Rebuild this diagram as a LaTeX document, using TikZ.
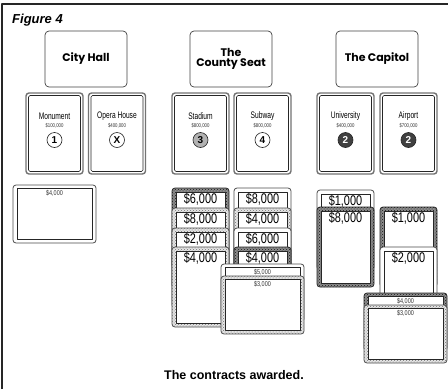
\documentclass[tikz,border=0pt]{standalone}
\usepackage{fontspec}
\usepackage{graphicx}
\setmainfont{Liberation Sans}
\newfontfamily\headfont{Poppins}
\usetikzlibrary{patterns}
\newcommand{\narrow}[1]{\scalebox{0.78}[1]{#1}}
\newcommand{\slimname}[1]{\scalebox{0.7}[1]{#1}}

\tikzset{
  plainedge/.style={draw=black!70,fill=white},
  speckedge/.style={draw=black!70,fill=black!10,postaction={pattern=crosshatch dots,pattern color=black!55}},
  darkedge/.style={draw=black!85,fill=black!45,postaction={pattern=crosshatch dots,pattern color=black!90}},
  cardface/.style={draw=black!85,fill=white,line width=0.6pt},
  sitebox/.style={draw=black!55,fill=white,line width=1.4pt,rounded corners=3},
  siteinner/.style={draw=black!85,line width=0.6pt,rounded corners=1.5},
  sitename/.style={inner sep=0,font=\fontsize{9.5}{10}\selectfont},
  siteprice/.style={inner sep=0,font=\fontsize{5.5}{6}\selectfont,text=black!80},
  disc/.style={circle,draw=black!85,line width=0.6pt,minimum size=15,inner sep=0,font=\bfseries\fontsize{10}{10}\selectfont},
  discwhite/.style={fill=white},
  discgrey/.style={fill=black!30},
  discdark/.style={fill=black!75,text=white},
  hall/.style={draw=black!75,line width=0.7pt,rounded corners=4,minimum width=82,minimum height=56,align=center,font=\headfont\bfseries\fontsize{11}{10.5}\selectfont},
  bigamount/.style={anchor=north,inner sep=0.5,font=\fontsize{14}{14}\selectfont},
  smallamount/.style={anchor=north,inner sep=0.5,font=\fontsize{7}{7}\selectfont,text=black!80},
}

% building card: left x, node name, site, price, disc style, number
\newcommand{\sitecard}[6]{%
  \draw[sitebox] (#1,93) rectangle ++(57,81);
  \draw[siteinner] (#1+2.5,95.5) rectangle ++(52,76);
  \node[sitename] (#2) at (#1+28.5,116) {\slimname{#3}};
  \node[siteprice] (#2-price) at (#1+28.5,126) {\narrow{#4}};
  \node[disc,#5] (#2-disc) at (#1+28.5,140) {#6};
}
% upright contract: left x, top y, edge, amount, node name
\newcommand{\tallcontract}[5]{%
  \draw[#3,line width=0.8pt,rounded corners=3] (#1,#2) rectangle ++(57,80);
  \draw[cardface] (#1+4,#2+4) rectangle ++(49,72);
  \node[bigamount] (#5) at (#1+28.5,#2+4.5) {\narrow{#4}};
}
% sideways contract: left x, top y, edge, amount, node name
\newcommand{\widecontract}[5]{%
  \draw[#3,line width=0.8pt,rounded corners=3] (#1,#2) rectangle ++(83,58);
  \draw[cardface] (#1+4,#2+3.5) rectangle ++(75,51);
  \node[smallamount] (#5) at (#1+41.5,#2+5) {\narrow{#4}};
}

\begin{document}
\begin{tikzpicture}[x=1pt,y=-1pt,line join=round]
	\useasboundingbox (0,0) rectangle (448,389);
	\draw[line width=2pt,black!85] (2,389)--(2,4)--(448,4);
	\node[anchor=base west,inner sep=0,font=\bfseries\itshape\fontsize{13}{13}\selectfont] (figlabel) at (12,23) {Figure 4};

	% the three halls
	\node[hall] (cityhall) at (86,59) {City Hall};
	\node[hall] (countyseat) at (231,59) {The\\County Seat};
	\node[hall] (capitol) at (377,59) {The Capitol};

	% building cards
	\sitecard{26}{monument}{Monument}{\$100,000}{discwhite}{1}
	\sitecard{88.5}{opera}{Opera House}{\$400,000}{discwhite}{X}
	\sitecard{172}{stadium}{Stadium}{\$800,000}{discgrey}{3}
	\sitecard{234}{subway}{Subway}{\$800,000}{discwhite}{4}
	\sitecard{317}{university}{University}{\$400,000}{discdark}{2}
	\sitecard{380}{airport}{Airport}{\$700,000}{discdark}{2}

	% contracts
	\widecontract{13}{185}{plainedge}{\$4,000}{monument-a}

	\tallcontract{172}{188}{darkedge}{\$6,000}{stadium-a}
	\tallcontract{172}{208}{speckedge}{\$8,000}{stadium-b}
	\tallcontract{172}{228}{speckedge}{\$2,000}{stadium-c}
	\tallcontract{172}{247}{speckedge}{\$4,000}{stadium-d}

	\tallcontract{234}{188}{plainedge}{\$8,000}{subway-a}
	\tallcontract{234}{208}{speckedge}{\$4,000}{subway-b}
	\tallcontract{234}{228}{plainedge}{\$6,000}{subway-c}
	\tallcontract{234}{247}{darkedge}{\$4,000}{subway-d}
	\widecontract{221}{264}{plainedge}{\$5,000}{subway-e}
	\widecontract{221}{276}{speckedge}{\$3,000}{subway-f}

	\tallcontract{317}{190}{plainedge}{\$1,000}{university-a}
	\tallcontract{317}{207}{darkedge}{\$8,000}{university-b}

	\tallcontract{380}{207}{darkedge}{\$1,000}{airport-a}
	\tallcontract{380}{247}{plainedge}{\$2,000}{airport-b}
	\widecontract{364}{293}{darkedge}{\$4,000}{airport-c}
	\widecontract{364}{305}{speckedge}{\$3,000}{airport-d}

	\node[anchor=base,inner sep=0,font=\bfseries\fontsize{12.5}{12.5}\selectfont] (caption) at (234,379.5) {The contracts awarded.};
\end{tikzpicture}
\end{document}
